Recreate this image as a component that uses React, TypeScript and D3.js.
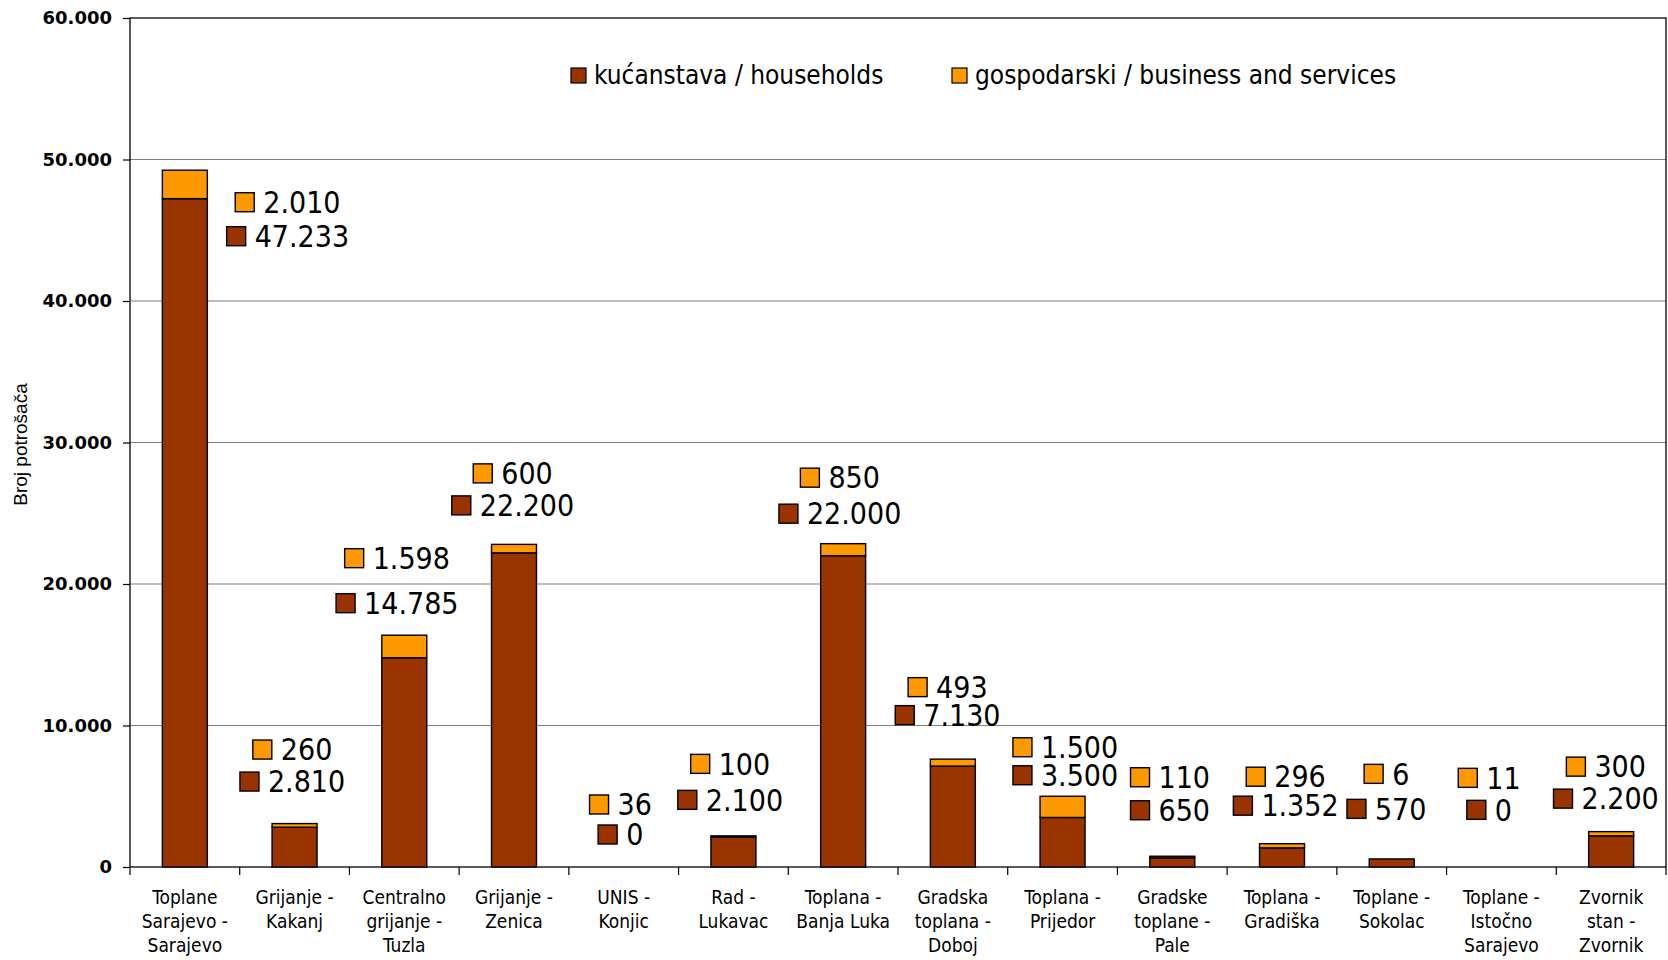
import * as d3 from "d3";
import React, { useEffect, useRef } from "react";

// categories (split into lines as on the axis)
const categories: string[][] = [
  ["Toplane", "Sarajevo -", "Sarajevo"],
  ["Grijanje -", "Kakanj"],
  ["Centralno", "grijanje -", "Tuzla"],
  ["Grijanje -", "Zenica"],
  ["UNIS -", "Konjic"],
  ["Rad -", "Lukavac"],
  ["Toplana -", "Banja Luka"],
  ["Gradska", "toplana -", "Doboj"],
  ["Toplana -", "Prijedor"],
  ["Gradske", "toplane -", "Pale"],
  ["Toplana -", "Gradiška"],
  ["Toplane -", "Sokolac"],
  ["Toplane -", "Istočno", "Sarajevo"],
  ["Zvornik", "stan -", "Zvornik"],
];

const households = [47233, 2810, 14785, 22200, 0, 2100, 22000, 7130, 3500, 650, 1352, 570, 0, 2200];
const business = [2010, 260, 1598, 600, 36, 100, 850, 493, 1500, 110, 296, 6, 11, 300];

const yTicks = [0, 10000, 20000, 30000, 40000, 50000, 60000];
const seriesNames = ["kućanstava / households", "gospodarski / business and services"];
const colors = ["#993300", "#FF9900"];

// the labels were dragged around by hand in the original, keep their offsets (px)
const labelShiftX = [103, -2, -7, -1, -3, -3, -3, -5, 3, -2, 4, -5, -12, -5];
const labelShiftY = [32, -74, -77, -71, -62, -72, -66, -72, -49, -79, -67, -85, -89, -65];
const labelGap = [34, 32, 45, 32, 30, 36, 36, 28, 28, 33, 29, 35, 32, 32];

const W = 1668, H = 960;
const margin = { top: 18, right: 2, bottom: 93, left: 130 };

const numFmt = d3.formatLocale({ decimal: ",", thousands: ".", grouping: [3], currency: ["", ""] }).format(",d");

const labelFont = "'DejaVu Sans Condensed', 'DejaVu Sans', sans-serif";

export default function App() {
  const ref = useRef<SVGSVGElement>(null);

  useEffect(() => {
    document.body.style.margin = "0";
    const svg = d3.select(ref.current!);
    svg.selectAll("*").remove();

    const x0 = margin.left, x1 = W - margin.right;
    const yTop = margin.top, yBot = H - margin.bottom;

    const x = d3.scaleBand<number>().domain(d3.range(categories.length)).range([x0, x1]).paddingInner(0.59).paddingOuter(0.295);
    const y = d3.scaleLinear().domain([0, 60000]).range([yBot, yTop]);

    // gridlines
    svg.append("g")
      .selectAll("line")
      .data(yTicks.slice(1, -1))
      .enter()
      .append("line")
      .attr("x1", x0).attr("x2", x1)
      .attr("y1", d => y(d)).attr("y2", d => y(d))
      .attr("stroke", "#808080")
      .attr("stroke-width", 1.2);

    // plot frame
    svg.append("rect")
      .attr("x", x0).attr("y", yTop)
      .attr("width", x1 - x0).attr("height", yBot - yTop)
      .attr("fill", "none")
      .attr("stroke", "#000")
      .attr("stroke-width", 1.3);

    // y axis
    const yAxis = svg.append("g").attr("transform", `translate(${x0},0)`)
      .call(d3.axisLeft(y).tickValues(yTicks).tickSize(7).tickPadding(11).tickFormat(d => numFmt(+d)));
    yAxis.select(".domain").remove();
    yAxis.selectAll("line").attr("stroke", "#000").attr("stroke-width", 1.2);
    yAxis.selectAll("text")
      .attr("font-family", "'DejaVu Sans', Verdana, sans-serif")
      .attr("font-weight", "bold")
      .attr("font-size", 18)
      .attr("fill", "#000");

    svg.append("text")
      .attr("transform", `translate(27,${(yTop + yBot) / 2 + 2}) rotate(-90)`)
      .attr("text-anchor", "middle")
      .attr("font-family", "'Liberation Sans', Arial, sans-serif")
      .attr("font-size", 19)
      .text("Broj potrošača");

    // x axis ticks at category boundaries
    const step = x.step();
    svg.append("g")
      .selectAll("line")
      .data(d3.range(categories.length + 1))
      .enter()
      .append("line")
      .attr("x1", i => x0 + i * step).attr("x2", i => x0 + i * step)
      .attr("y1", yBot).attr("y2", yBot + 8)
      .attr("stroke", "#000")
      .attr("stroke-width", 1.2);

    const xl = svg.append("g")
      .selectAll("text")
      .data(categories)
      .enter()
      .append("text")
      .attr("text-anchor", "middle")
      .attr("font-family", labelFont)
      .attr("font-size", 19)
      .attr("transform", (d, i) => `translate(${x(i)! + x.bandwidth() / 2},${yBot + 37})`);
    xl.selectAll("tspan")
      .data(d => d)
      .enter()
      .append("tspan")
      .attr("x", 0)
      .attr("y", (d, j) => j * 24)
      .text(d => d);

    // stacked bars
    const rows = categories.map((c, i) => ({ i, households: households[i], business: business[i] }));
    const stack = d3.stack<any>().keys(["households", "business"])(rows);

    svg.append("g")
      .selectAll("g")
      .data(stack)
      .enter()
      .append("g")
      .attr("fill", (d, k) => colors[k])
      .selectAll("rect")
      .data(d => d.filter(s => y(s[0]) - y(s[1]) >= 1))
      .enter()
      .append("rect")
      .attr("x", d => x(d.data.i)!)
      .attr("width", x.bandwidth())
      .attr("y", d => y(d[1]))
      .attr("height", d => y(d[0]) - y(d[1]))
      .attr("stroke", "#000")
      .attr("stroke-width", 1.4);

    // data labels with legend keys
    const drawLabel = (cx: number, cy: number, value: number, color: string) => {
      const g = svg.append("g");
      g.append("rect")
        .attr("x", 0).attr("y", cy - 9.5)
        .attr("width", 19).attr("height", 19)
        .attr("fill", color)
        .attr("stroke", "#000")
        .attr("stroke-width", 1.4);
      const t = g.append("text")
        .attr("x", 28).attr("y", cy)
        .attr("dy", "0.36em")
        .attr("font-family", labelFont)
        .attr("font-size", 30)
        .text(numFmt(value));
      const w = 28 + (t.node() as SVGTextElement).getComputedTextLength();
      g.attr("transform", `translate(${cx - w / 2},0)`);
    };

    rows.forEach((r, i) => {
      const cx = x(i)! + x.bandwidth() / 2 + labelShiftX[i];
      const top = y(households[i] + business[i]);
      const oy = top + labelShiftY[i];
      drawLabel(cx, oy, business[i], colors[1]);
      drawLabel(cx, oy + labelGap[i], households[i], colors[0]);
    });

    // legend
    const legendX = [571, 952];
    seriesNames.forEach((name, k) => {
      svg.append("rect")
        .attr("x", legendX[k]).attr("y", 68)
        .attr("width", 15).attr("height", 15)
        .attr("fill", colors[k])
        .attr("stroke", "#000")
        .attr("stroke-width", 1.2);
      svg.append("text")
        .attr("x", legendX[k] + 23).attr("y", 84)
        .attr("font-family", labelFont)
        .attr("font-size", 26)
        .text(name);
    });
  }, []);

  return <svg ref={ref} width={W} height={H} style={{ display: "block", background: "#fff" }} />;
}
